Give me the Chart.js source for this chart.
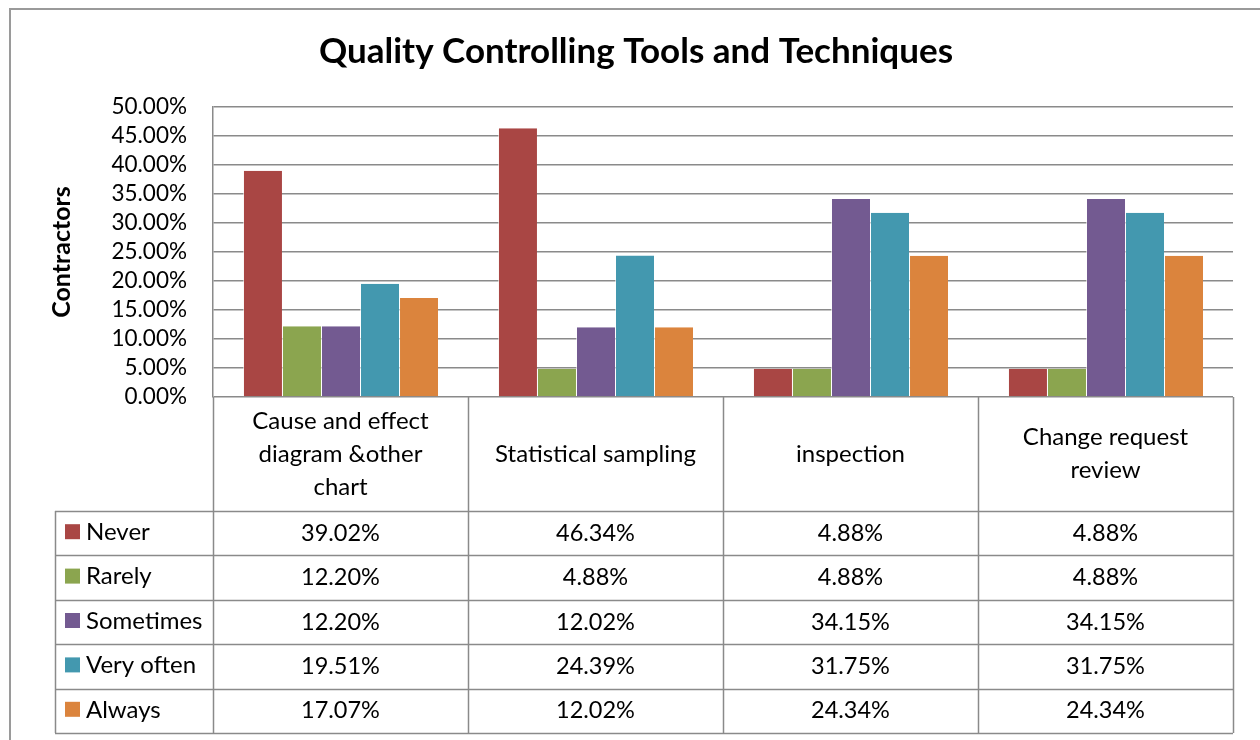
<!DOCTYPE html>
<html>
<head>
<meta charset="utf-8">
<script src="https://cdn.jsdelivr.net/npm/chart.js@4"></script>
<style>
  body { margin: 0; background: #fff; }
  #wrap { width: 1260px; height: 740px; }
</style>
</head>
<body>
<div id="wrap"><canvas id="grafico" width="1260" height="740"></canvas></div>
<script>
const categorias = [
    ['Cause and effect', 'diagram &other', 'chart'],
    ['Statistical sampling'],
    ['inspection'],
    ['Change request', 'review']
];
const never     = [39.02, 46.34, 4.88, 4.88];
const rarely    = [12.20, 4.88, 4.88, 4.88];
const sometimes = [12.20, 12.02, 34.15, 34.15];
const veryOften = [19.51, 24.39, 31.75, 31.75];
const always    = [17.07, 12.02, 24.34, 24.34];
const series = ['Never', 'Rarely', 'Sometimes', 'Very often', 'Always'];
const cores = ['#A94644', '#8BA54F', '#735A91', '#4398AF', '#DB843D'];
const yTicks = [0, 5, 10, 15, 20, 25, 30, 35, 40, 45, 50];

const FONTE = 'Lato, "Open Sans", sans-serif';
const CINZA = '#8a8a8a';

// moldura exterior do gráfico (estilo Excel)
const molduraPlugin = {
    id: 'moldura',
    beforeDraw(chart) {
        const ctx = chart.ctx;
        ctx.save();
        ctx.fillStyle = '#fff';
        ctx.fillRect(0, 0, chart.width, chart.height);
        ctx.strokeStyle = '#9a9a9a';
        ctx.lineWidth = 2;
        ctx.strokeRect(10, 9, chart.width + 40, chart.height + 40);
        ctx.restore();
    }
};

// tabela de dados por baixo do eixo
const tabelaPlugin = {
    id: 'tabela',
    afterDraw(chart) {
        const { ctx, chartArea: a, scales: { x } } = chart;
        const dados = chart.data.datasets;
        const n = categorias.length;
        const colW = (a.right - a.left) / n;
        const topoCab = a.bottom;
        const fimCab = 511;
        const altLinha = 44.4;
        const esq = 55;
        const fim = fimCab + altLinha * dados.length;

        ctx.save();
        ctx.strokeStyle = CINZA;
        ctx.lineWidth = 1.5;

        // linhas verticais
        for (let i = 0; i <= n; i++) {
            const px = Math.round(a.left + colW * i) + 0.5;
            ctx.beginPath();
            ctx.moveTo(px, topoCab);
            ctx.lineTo(px, fim);
            ctx.stroke();
        }
        ctx.beginPath();
        ctx.moveTo(esq + 0.5, fimCab);
        ctx.lineTo(esq + 0.5, fim);
        ctx.stroke();

        // linhas horizontais
        for (let r = 0; r <= dados.length; r++) {
            const py = Math.round(fimCab + altLinha * r) + 0.5;
            ctx.beginPath();
            ctx.moveTo(esq, py);
            ctx.lineTo(a.right, py);
            ctx.stroke();
        }

        ctx.fillStyle = '#000';
        ctx.font = '24px ' + FONTE;
        ctx.textAlign = 'center';
        ctx.textBaseline = 'middle';

        // cabeçalho das categorias
        const meioCab = (topoCab + fimCab) / 2;
        categorias.forEach((linhas, i) => {
            const cx = x.getPixelForValue(i);
            const lh = 33;
            const y0 = meioCab - (linhas.length - 1) * lh / 2;
            linhas.forEach((t, k) => ctx.fillText(t, cx, y0 + k * lh));
        });

        // linhas da tabela com legenda
        dados.forEach((ds, r) => {
            const cy = fimCab + altLinha * r + altLinha / 2 - 1;
            ctx.fillStyle = ds.backgroundColor;
            ctx.fillRect(65, cy - 8, 15, 15);
            ctx.fillStyle = '#000';
            ctx.textAlign = 'left';
            ctx.font = '24px ' + FONTE;
            ctx.fillText(ds.label, 86, cy);
            ctx.textAlign = 'center';
            ctx.font = '23.5px ' + FONTE;
            ds.data.forEach((v, i) => {
                ctx.fillText(v.toFixed(2) + '%', x.getPixelForValue(i), cy + 1);
            });
        });
        ctx.restore();
    }
};

function criarGrafico() {
    const ctx = document.getElementById('grafico').getContext('2d');
    const valores = [never, rarely, sometimes, veryOften, always];

    new Chart(ctx, {
        type: 'bar',
        data: {
            labels: categorias,
            datasets: series.map((nome, i) => ({
                label: nome,
                data: valores[i],
                backgroundColor: cores[i],
                borderColor: 'rgba(255,255,255,0.6)',
                borderWidth: { left: 1, right: 0, top: 0, bottom: 0 },
                borderSkipped: false,
                categoryPercentage: 0.765,
                barPercentage: 1
            }))
        },
        options: {
            responsive: false,
            animation: false,
            layout: { padding: { left: 39, right: 27, top: 0, bottom: 343 } },
            scales: {
                x: { display: false },
                y: {
                    min: 0,
                    max: 50,
                    afterBuildTicks: s => { s.ticks = yTicks.map(v => ({ value: v })); },
                    afterFit: s => { s.width = 174; },
                    ticks: {
                        autoSkip: false,
                        padding: 26,
                        color: '#000',
                        font: { family: FONTE, size: 22.5 },
                        callback: v => v.toFixed(2) + '%'
                    },
                    grid: { color: CINZA, lineWidth: 1.5, drawTicks: false },
                    border: { display: true, color: CINZA, width: 1.5 },
                    title: {
                        display: true,
                        text: 'Contractors',
                        color: '#000',
                        font: { family: FONTE, size: 25, weight: 'bold' },
                        padding: { top: 8, bottom: 0 }
                    }
                }
            },
            plugins: {
                legend: { display: false },
                tooltip: { enabled: false },
                title: {
                    display: true,
                    text: 'Quality Controlling Tools and Techniques',
                    color: '#000',
                    font: { family: FONTE, size: 35, weight: 'bold' },
                    padding: { top: 31, bottom: 34 }
                }
            }
        },
        plugins: [molduraPlugin, tabelaPlugin]
    });
}

document.fonts.load('22px Lato').then(criarGrafico, criarGrafico);
</script>
</body>
</html>
